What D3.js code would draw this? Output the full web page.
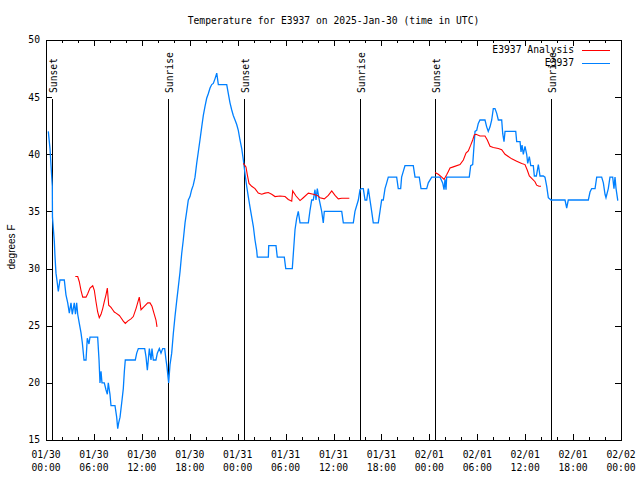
<!DOCTYPE html>
<html><head><meta charset="utf-8">
<script src="https://cdn.jsdelivr.net/npm/d3@7"></script>
<style>
body{margin:0;background:#fff}
svg{display:block}
text{font-family:"DejaVu Sans Mono","Liberation Mono",monospace;font-size:9.7px;fill:#000}
</style></head><body>
<svg id="chart" width="640" height="480"></svg>
<script>
// ---- data (hours since 2025-01-30 00:00 UTC) ----
const obsHours = [0.29,0.5,0.63,0.79,0.81,1.04,1.13,1.25,1.42,1.54,1.75,2.29,2.5,2.72,2.92,3.13,3.29,3.54,3.69,3.84,3.97,4.17,4.38,4.55,4.76,5.01,5.17,5.38,5.51,5.72,6.47,6.64,6.76,6.89,7.01,7.30,7.51,7.68,7.80,8.01,8.14,8.64,8.85,8.98,9.10,9.27,9.52,9.68,9.81,9.93,11.18,11.36,11.56,12.36,12.52,12.69,12.81,12.94,13.15,13.27,13.44,13.77,13.94,14.19,14.40,14.61,14.86,15.03,15.15,15.28,15.36,15.53,15.74,15.94,16.15,16.37,16.57,16.78,16.99,17.19,17.41,17.62,17.82,18.03,18.24,18.44,18.66,18.87,19.07,19.28,19.50,19.70,19.91,20.12,20.32,20.54,20.75,20.95,21.16,21.38,21.58,22.63,22.83,23.04,23.25,23.45,23.67,23.88,24.08,24.29,24.51,24.71,24.92,25.13,25.33,25.54,25.76,25.96,26.17,26.38,26.46,27.84,27.89,28.80,28.96,29.84,30.02,30.84,30.97,31.18,31.39,31.59,31.81,32.85,33.06,33.27,33.47,33.68,33.81,33.97,34.22,34.52,34.72,34.85,37.03,37.23,38.48,38.69,39.11,39.32,39.53,39.73,39.95,40.16,40.36,40.57,40.78,40.98,41.61,41.82,42.03,42.23,42.45,42.66,42.86,43.91,44.11,44.41,44.53,44.74,44.95,45.99,46.21,46.74,46.96,47.67,47.87,48.30,49.34,49.67,49.84,49.96,50.09,50.17,53.00,53.18,53.43,53.51,53.72,53.93,54.13,54.34,54.97,55.18,55.38,55.60,55.81,56.01,56.22,56.43,56.64,57.06,57.19,57.35,57.48,58.82,58.94,59.36,59.48,59.61,59.77,59.98,60.19,60.32,60.52,60.70,61.02,61.15,61.40,61.65,61.86,62.27,62.48,62.70,62.90,63.24,64.99,65.20,65.40,67.91,68.12,68.33,68.75,68.96,69.58,69.79,70.00,70.12,70.41,70.62,70.96,71.12,71.25,71.38,71.59,71.66];
const obsTemps = [42,40.5,39,37.2,34.5,32.4,31,29.6,28.7,28,29,29,27.7,27,26.1,27,26,27,26,27,26,25.2,24.4,23.5,22,22,23.9,23.4,24,24,24,22,20,21,20,20,19.4,19,20,19,18,18,17,16,16.5,17,18.5,19.5,21,22,22,22.6,23,23,22.3,21.1,22,23,22,23,22,22,22.6,23,22.6,23,23,22,21.4,20.5,20,21.6,22.6,24.3,25.8,27.2,28.4,29.7,31.3,32.5,34,35,36,36.3,36.9,37.3,38,39.2,40.2,41.25,42.4,43.4,44.2,44.9,45.3,45.8,46.1,46.2,46.6,47.1,46.1,46.1,45.3,44.5,43.9,43.4,43,42.6,42.1,41.25,40.5,39.5,38.3,37.2,36.3,35.4,34.5,33.7,32.5,31.6,31,31,32,32,31,31,30,30,31.3,33.4,34.4,35,34,34,35.1,36,36,36.9,36,37,36,35,34,35,35,34,34,35,36,36.9,37,37,36,36,37,36,35,34,34,35,36,36,37,37.5,38,38,37,37,38,38.5,39,39,38,38,37,37,37.5,38,38,37.5,36.9,37.8,36.9,38,38,39,39.1,39.9,42,42.1,42.7,43,43,42.4,42,42.4,43,44,44,43.6,43,43,41.8,41.1,42,42,41.1,41.1,40.2,40.8,40,40.7,40,39.2,39.8,39,39,38.1,38.1,39.1,38.1,38.1,38,37.2,36.2,36,36,35.3,36,36,36.7,37,37,38,38,37.5,36.5,36.2,37,38,38,37,38,37,36,36];

// Analysis series, null marks a gap
const anaHours = [3.67,3.97,4.17,4.38,4.60,5.01,5.22,5.51,5.85,6.05,6.26,6.47,6.67,6.89,7.10,7.30,7.51,7.68,7.85,8.14,8.35,8.55,8.77,9.18,9.39,9.68,9.93,10.23,10.64,10.93,11.27,11.52,11.68,11.90,12.31,12.74,13.02,13.27,13.56,13.77,13.90,
  null,
  24.71,25.04,25.21,25.42,25.76,26.17,26.58,27.01,27.42,27.84,28.26,28.68,29.30,29.93,30.34,30.77,30.89,31.31,31.81,32.22,32.85,33.47,33.97,34.31,34.85,35.35,35.78,36.19,36.60,37.03,37.98,
  null,
  48.71,49.12,49.55,49.84,50.17,50.38,50.59,51.00,51.84,52.26,52.59,52.88,53.18,53.43,53.63,53.85,54.34,54.97,55.26,55.60,56.01,56.64,57.06,57.48,57.89,58.32,58.94,59.57,59.98,60.27,60.52,60.82,61.23,61.44,61.73,61.98];
const anaTemps = [29.3,29.3,28.85,28.1,27.5,27.5,27.8,28.3,28.5,28.1,27.1,26.2,25.7,26,26.5,27.1,27.7,28.3,26.8,26.6,26.4,26.2,26.1,25.9,25.7,25.4,25.2,25.4,25.6,25.8,26.5,27.1,27.5,26.4,26.7,27,27,26.7,26,25.5,24.9,
  null,
  39.2,38.9,38.2,37.45,37.2,37,36.6,36.5,36.6,36.65,36.5,36.3,36.35,36.3,36.05,35.9,36.8,36.35,35.95,36.2,36.6,36.5,36.4,36.2,36.1,36.4,36.8,36.4,36.1,36.15,36.15,
  null,
  38.4,38.25,38,37.8,38.2,38.5,38.8,38.9,39.1,39.5,40.1,40.3,40.8,41.25,41.7,41.75,41.6,41.6,41.25,40.7,40.6,40.5,40.4,40,39.8,39.6,39.4,39.2,39.1,38.6,38.1,37.9,37.6,37.3,37.2,37.2];

const eventHours = [0.79,15.28,24.79,39.32,48.71,63.24];
const eventLabels = ["Sunset","Sunrise","Sunset","Sunrise","Sunset","Sunrise"];
const yTicks = [15,20,25,30,35,40,45,50];
const seriesNames = ["E3937 Analysis","E3937"];
const seriesColors = ["#ff0000","#0080ff"];
const titleText = "Temperature for E3937 on 2025-Jan-30 (time in UTC)";
const yLabel = "degrees F";

// ---- layout ----
const L = 46, R = 621, T = 40, B = 440;
const base = Date.UTC(2025,0,30);
const toDate = h => new Date(base + h*3600e3);

const svg = d3.select("#chart");
const x = d3.scaleUtc().domain([toDate(0), toDate(72)]).range([L, R]);
const y = d3.scaleLinear().domain([15,50]).range([B, T]);

// title
svg.append("text").attr("x",(L+R)/2).attr("y",21).attr("dy","0.35em")
  .attr("text-anchor","middle").text(titleText);
// y label
svg.append("text").attr("transform",`translate(11,247) rotate(-90)`)
  .attr("text-anchor","middle").attr("dy","0.35em")
  .style("font-family","'Liberation Sans',Arial,sans-serif").style("font-size","10px")
  .text(yLabel);

const g = svg.append("g").attr("shape-rendering","crispEdges");

// x minor ticks (every 2h) bottom & top
const minor = d3.utcHour.every(2).range(toDate(0), toDate(72.01)).filter(d => d.getUTCHours()%6 !== 0);
const major = d3.utcHour.every(6).range(toDate(0), toDate(72.01));
minor.forEach(d => {
  const xx = Math.round(x(d))+0.5;
  g.append("line").attr("x1",xx).attr("x2",xx).attr("y1",B).attr("y2",B-3).attr("stroke","#000");
  g.append("line").attr("x1",xx).attr("x2",xx).attr("y1",T).attr("y2",T+3).attr("stroke","#000");
});
major.forEach(d => {
  const xx = Math.round(x(d))+0.5;
  g.append("line").attr("x1",xx).attr("x2",xx).attr("y1",B).attr("y2",B-6).attr("stroke","#000");
  g.append("line").attr("x1",xx).attr("x2",xx).attr("y1",T).attr("y2",T+6).attr("stroke","#000");
  const t = svg.append("text").attr("text-anchor","middle").attr("x",x(d));
  t.append("tspan").attr("x",x(d)).attr("y",458).text(d3.utcFormat("%m/%d")(d));
  t.append("tspan").attr("x",x(d)).attr("y",470.5).text(d3.utcFormat("%H:%M")(d));
});
// y ticks
yTicks.forEach(v => {
  const yy = Math.round(y(v))+0.5;
  g.append("line").attr("x1",L).attr("x2",L+6).attr("y1",yy).attr("y2",yy).attr("stroke","#000");
  g.append("line").attr("x1",R).attr("x2",R-6).attr("y1",yy).attr("y2",yy).attr("stroke","#000");
  svg.append("text").attr("x",40).attr("y",y(v)).attr("dy","0.35em").attr("text-anchor","end").text(v);
});

// event lines
eventHours.forEach((h,i) => {
  const xx = Math.round(x(toDate(h)))+0.5;
  g.append("line").attr("x1",xx).attr("x2",xx).attr("y1",99).attr("y2",B).attr("stroke","#000");
  svg.append("text").attr("transform",`translate(${xx+4},93) rotate(-90)`).attr("text-anchor","start").text(eventLabels[i]);
});

// data lines
const obs = obsHours.map((h,i) => ({d: toDate(h), t: obsTemps[i]}));
const ana = anaHours.map((h,i) => ({d: h==null?null:toDate(h), t: anaTemps[i]}));
const line = d3.line().defined(p => p.t != null && p.d != null).x(p => x(p.d)).y(p => y(p.t));
svg.append("path").datum(obs).attr("d",line).attr("fill","none").attr("stroke",seriesColors[1])
  .attr("stroke-width",1.3).attr("stroke-linejoin","miter");
svg.append("path").datum(ana).attr("d",line).attr("fill","none").attr("stroke",seriesColors[0])
  .attr("stroke-width",1.1);

// frame
g.append("rect").attr("x",L+0.5).attr("y",T+0.5).attr("width",R-L).attr("height",B-T)
  .attr("fill","none").attr("stroke","#000");

// legend
seriesNames.forEach((n,i) => {
  const ly = 50 + i*12.7;
  svg.append("text").attr("x",574).attr("y",ly).attr("dy","0.35em").attr("text-anchor","end").text(n);
  g.append("line").attr("x1",582).attr("x2",610).attr("y1",Math.round(ly)+0.5).attr("y2",Math.round(ly)+0.5)
    .attr("stroke",seriesColors[i]);
});
</script>
</body></html>
